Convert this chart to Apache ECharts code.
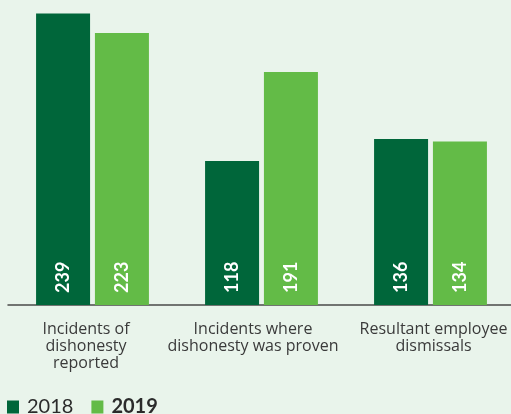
<html lang="en">
<head>
    <meta charset="UTF-8">
    <title>Dishonesty incidents</title>
    <script type="text/javascript" src="https://cdn.jsdelivr.net/npm/echarts@6/dist/echarts.min.js"></script>
</head>
<style>
    html, body { margin: 0; padding: 0; background: #e9f4eb; overflow: hidden; }
    #container { width: 515px; height: 414px; }
</style>
<body>
<div id="container"></div>
<script>
    // 数据
    var categories = ['Incidents of\ndishonesty\nreported', 'Incidents where\ndishonesty was proven', 'Resultant employee\ndismissals'];
    var years = ['2018', '2019'];
    var values2018 = [239, 118, 136];
    var values2019 = [223, 191, 134];

    var chart = echarts.init(document.getElementById('container'));

    var barLabel = {
        show: true,
        position: 'insideBottom',
        rotate: 90,
        align: 'left',
        verticalAlign: 'middle',
        distance: 12,
        color: '#fff',
        fontFamily: 'Lato',
        fontWeight: 'bold',
        fontSize: 18
    };

    // 轴标签字体, 每个类目稍微左右挪一下
    var tickFont = { fontFamily: 'Open Sans', fontSize: 16, lineHeight: 17, color: '#3a3a3a' };
    var tickRich = {
        c0: Object.assign({ padding: [0, 13, 0, 0] }, tickFont),
        c1: Object.assign({ padding: [0, 17, 0, 0] }, tickFont),
        c2: Object.assign({ padding: [0, 0, 0, 6] }, tickFont)
    };

    var option = {
        backgroundColor: '#e9f4eb',
        animation: false,
        // 容器比窗口宽一点, 右边的轴线一直延伸到边缘
        grid: { left: 8, right: 0, top: 0, bottom: 109 },
        legend: {
            left: 7,
            top: 397,
            padding: 0,
            itemWidth: 12,
            itemHeight: 13,
            itemGap: 18,
            icon: 'rect',
            textStyle: { color: '#2b2b2b', fontSize: 20, fontFamily: 'Lato', padding: [0, 0, 0, 3] },
            data: [
                { name: years[0] },
                { name: years[1], textStyle: { fontWeight: 'bold' } }
            ]
        },
        xAxis: {
            type: 'category',
            data: categories,
            axisLine: { lineStyle: { color: '#4a4a4a', width: 1.5 } },
            axisTick: { show: false },
            axisLabel: {
                interval: 0,
                margin: 16,
                color: '#3a3a3a',
                fontFamily: 'Open Sans',
                fontSize: 16,
                lineHeight: 17,
                formatter: function (value, index) {
                    return value.split('\n').map(function (line) {
                        return '{c' + index + '|' + line + '}';
                    }).join('\n');
                },
                rich: tickRich
            }
        },
        yAxis: {
            type: 'value',
            min: 0,
            max: 250,
            show: false,
            splitLine: { show: false }
        },
        series: [
            {
                name: years[0],
                type: 'bar',
                data: values2018,
                barWidth: 54,
                barGap: '9%',
                itemStyle: { color: '#00663a' },
                label: barLabel
            },
            {
                name: years[1],
                type: 'bar',
                data: values2019,
                barWidth: 54,
                itemStyle: { color: '#63bb47' },
                label: barLabel
            }
        ]
    };

    chart.setOption(option);
</script>
</body>
</html>
